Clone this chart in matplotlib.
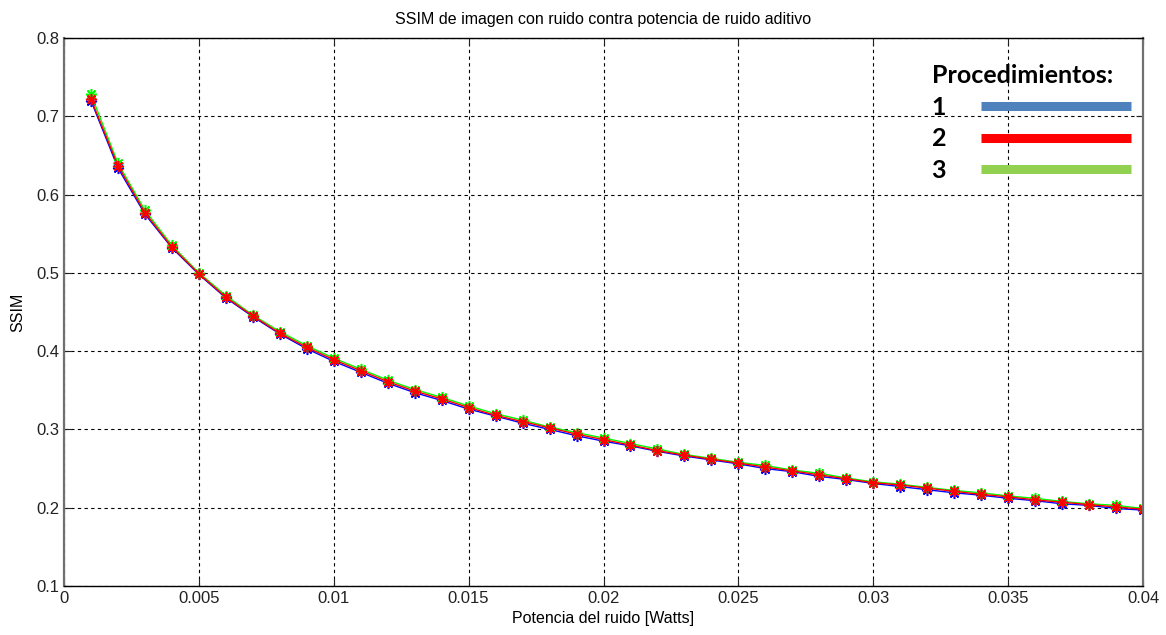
import numpy as np
import matplotlib
matplotlib.use('Agg')
import matplotlib.pyplot as plt
from matplotlib.lines import Line2D

plt.rcParams['font.family'] = ['Liberation Sans', 'DejaVu Sans']

# potencia de ruido (W)
potencia = [0.001, 0.002, 0.003, 0.004, 0.005, 0.006, 0.007, 0.008, 0.009, 0.010,
            0.011, 0.012, 0.013, 0.014, 0.015, 0.016, 0.017, 0.018, 0.019, 0.020,
            0.021, 0.022, 0.023, 0.024, 0.025, 0.026, 0.027, 0.028, 0.029, 0.030,
            0.031, 0.032, 0.033, 0.034, 0.035, 0.036, 0.037, 0.038, 0.039, 0.040]

ssim_1 = [0.720, 0.634, 0.575, 0.532, 0.498, 0.468, 0.444, 0.422, 0.403, 0.387,
          0.373, 0.359, 0.347, 0.337, 0.326, 0.317, 0.308, 0.300, 0.292, 0.285,
          0.279, 0.272, 0.266, 0.261, 0.256, 0.250, 0.246, 0.240, 0.236, 0.231,
          0.227, 0.223, 0.219, 0.216, 0.212, 0.209, 0.205, 0.203, 0.199, 0.197]

ssim_2 = [0.722, 0.637, 0.577, 0.533, 0.499, 0.469, 0.445, 0.423, 0.405, 0.389,
          0.375, 0.361, 0.349, 0.339, 0.328, 0.318, 0.310, 0.302, 0.294, 0.287,
          0.280, 0.273, 0.267, 0.262, 0.257, 0.252, 0.247, 0.242, 0.237, 0.232,
          0.229, 0.225, 0.221, 0.217, 0.214, 0.210, 0.207, 0.204, 0.201, 0.198]

ssim_3 = [0.728, 0.640, 0.580, 0.535, 0.500, 0.471, 0.446, 0.425, 0.407, 0.391,
          0.377, 0.363, 0.351, 0.341, 0.330, 0.320, 0.312, 0.303, 0.296, 0.289,
          0.282, 0.275, 0.268, 0.263, 0.258, 0.254, 0.248, 0.244, 0.238, 0.233,
          0.230, 0.226, 0.222, 0.219, 0.215, 0.212, 0.208, 0.205, 0.203, 0.199]

series = [(ssim_1, '#0000ff'), (ssim_3, '#00ff00'), (ssim_2, '#ff0000')]
legend_labels = ['1', '2', '3']
legend_colors = ['#4f81bd', '#ff0000', '#92d050']

xticks = [0, 0.005, 0.01, 0.015, 0.02, 0.025, 0.03, 0.035, 0.04]
xticklabels = ['0', '0.005', '0.01', '0.015', '0.02', '0.025', '0.03', '0.035', '0.04']
yticks = [0.1, 0.2, 0.3, 0.4, 0.5, 0.6, 0.7, 0.8]

fig = plt.figure(figsize=(11.66, 6.35), dpi=100)
ax = fig.add_axes([64 / 1166, 1 - 586 / 635, 1079 / 1166, 548 / 635])

for vals, col in series:
    ax.plot(potencia, vals, color=col, lw=1.0, marker=(8, 2, 0),
            markersize=8, markeredgewidth=1.1, markeredgecolor=col)

ax.set_xlim(0, 0.04)
ax.set_ylim(0.1, 0.8)
ax.set_xticks(xticks)
ax.set_xticklabels(xticklabels)
ax.set_yticks(yticks)
ax.tick_params(direction='in', labelsize=12, colors='#222222', length=5,
               top=True, right=True)
ax.grid(True, color='black', linestyle=(0, (3, 3)), linewidth=0.8)

for s in ['top', 'bottom']:
    ax.spines[s].set_color('black')
    ax.spines[s].set_linewidth(1.0)
for s in ['left', 'right']:
    ax.spines[s].set_color('#707070')
    ax.spines[s].set_linewidth(1.6)

ax.set_title('SSIM de imagen con ruido contra potencia de ruido aditivo',
             fontsize=11.5, pad=10)
ax.set_xlabel('Potencia del ruido [Watts]', fontsize=11.5, labelpad=4)
ax.set_ylabel('SSIM', fontsize=11.5, labelpad=8)

handles = [Line2D([0], [0], color=c, lw=6.5, solid_capstyle='butt') for c in legend_colors]
leg = ax.legend(handles, legend_labels, title='Procedimientos:', markerfirst=False,
                frameon=False, loc='upper left', bbox_to_anchor=(0.804, 0.953),
                borderpad=0, borderaxespad=0, handlelength=6.0, handletextpad=1.4,
                labelspacing=0.35,
                prop={'family': 'Lato', 'weight': 'bold', 'size': 18})
leg.get_title().set_fontproperties({'family': 'Lato', 'weight': 'bold', 'size': 18})
leg._legend_box.align = 'left'

fig.savefig('out.png', dpi=100)
